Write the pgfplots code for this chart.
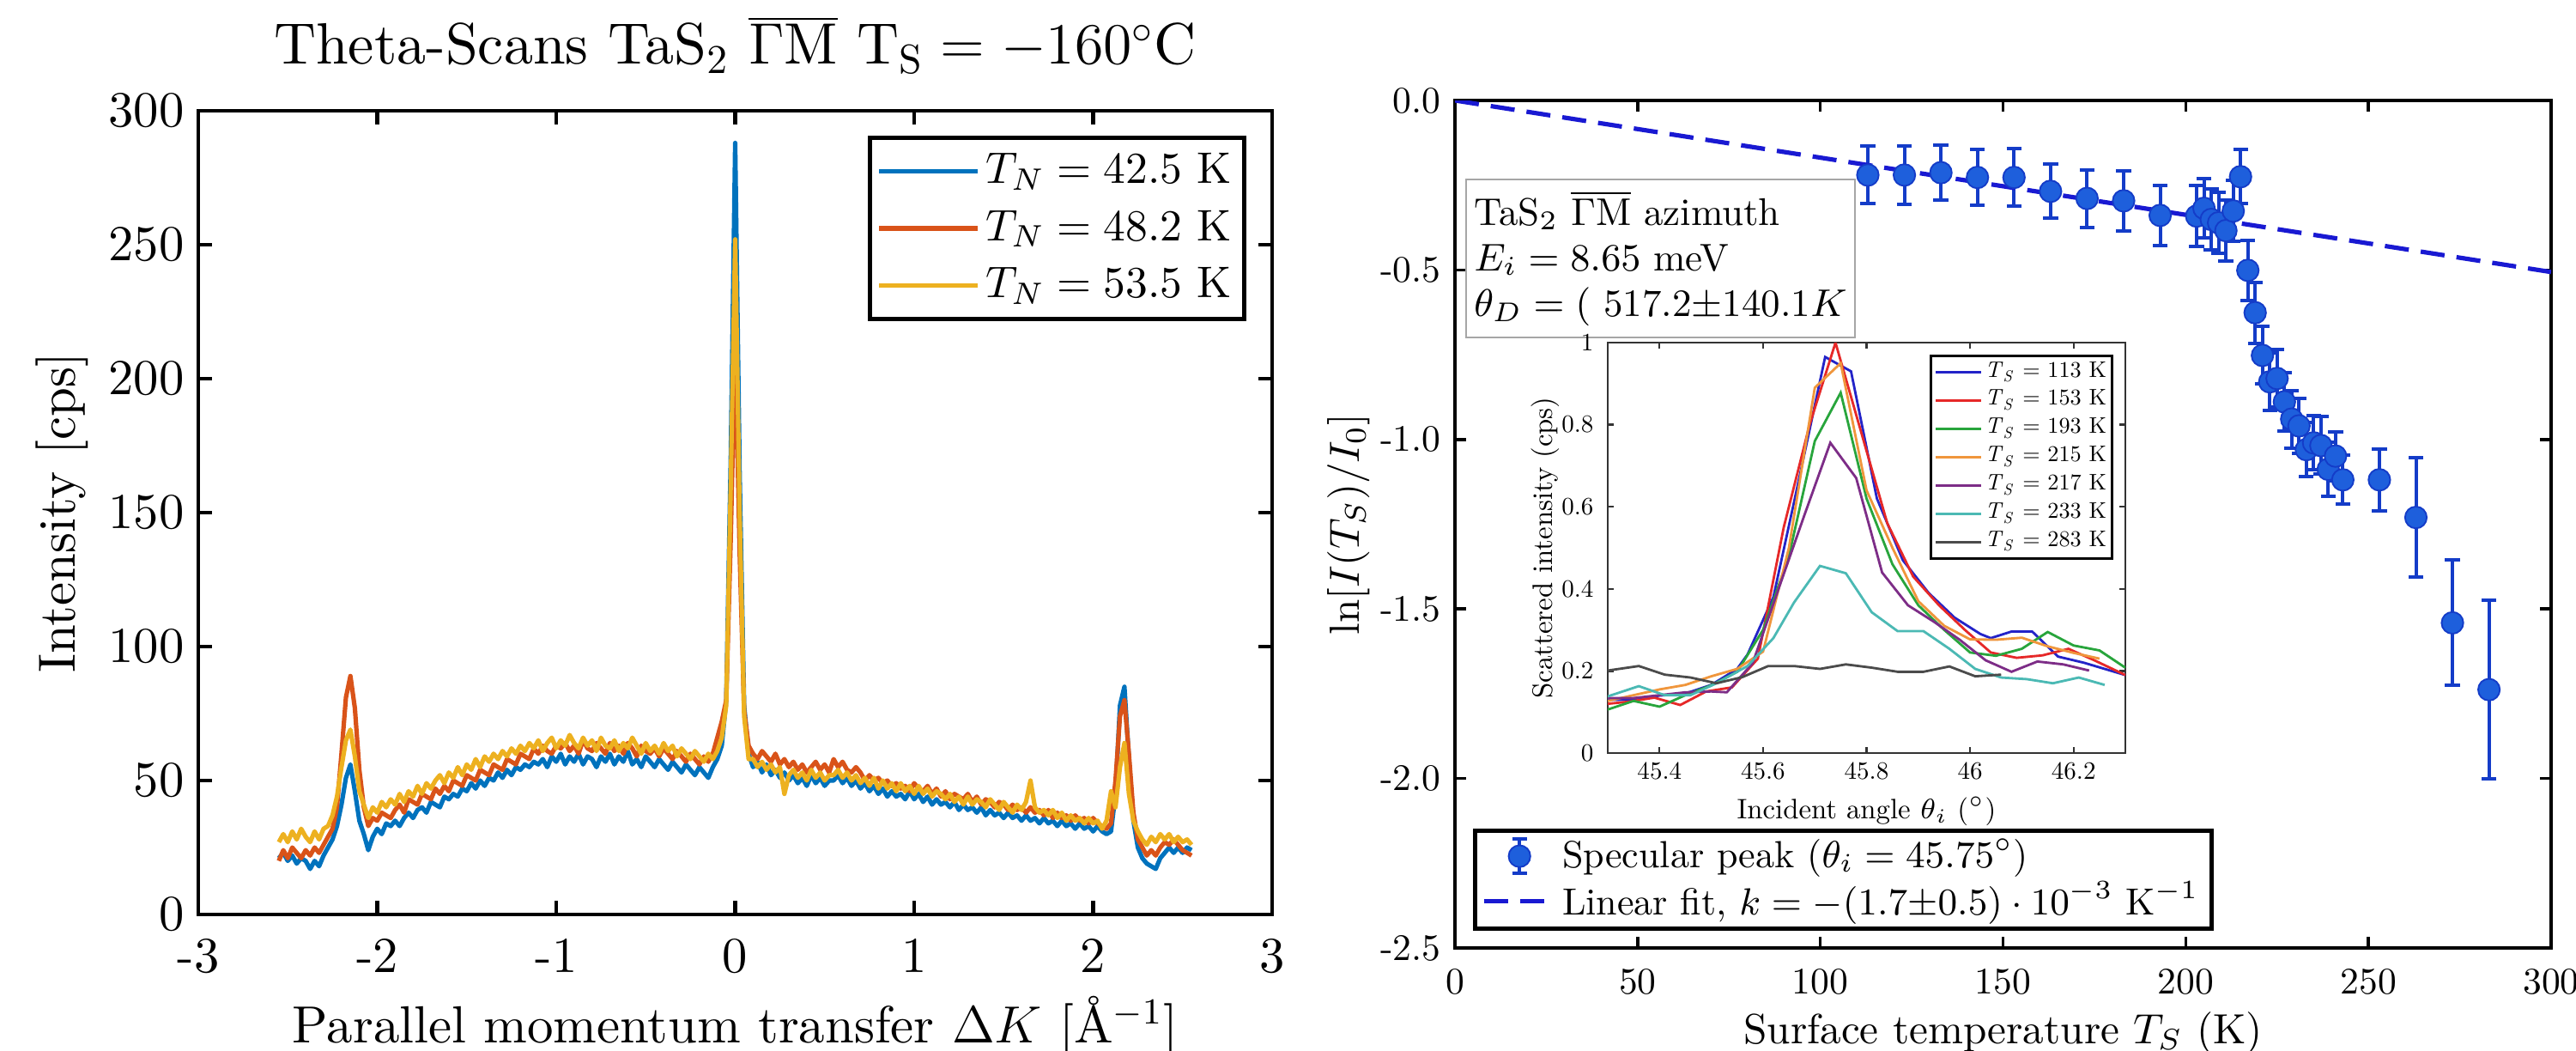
\RequirePackage{fix-cm}
\documentclass[border=0pt]{standalone}
\usepackage{fontspec}
\setmainfont{lmroman10-regular.otf}[ItalicFont=lmroman10-italic.otf, BoldFont=lmroman10-bold.otf]
\usepackage{pgfplots}
\pgfplotsset{compat=1.18}
\usepackage{pgfplotstable}

% MATLAB default colours (left panel)
\definecolor{mblue}{RGB}{0,114,189}
\definecolor{morange}{RGB}{217,83,25}
\definecolor{myellow}{RGB}{237,177,32}
% right panel
\definecolor{mkfill}{RGB}{30,95,220}
\definecolor{errcol}{RGB}{20,60,200}
\definecolor{fitcol}{RGB}{25,25,210}
% inset
\definecolor{iblue}{RGB}{35,35,200}
\definecolor{ired}{RGB}{230,40,40}
\definecolor{igreen}{RGB}{40,165,60}
\definecolor{iorange}{RGB}{240,150,60}
\definecolor{ipurple}{RGB}{125,45,135}
\definecolor{icyan}{RGB}{75,185,180}
\definecolor{igray}{RGB}{75,75,75}

\newcommand{\TS}{\textit{T}\textsubscript{\textit{S}}}

% theta scans: x, T_N=42.5K, 48.2K, 53.5K
\pgfplotstableread{
x b o y
-2.550 21 20 27
-2.525 23 24 30
-2.500 20 21 27
-2.475 22 25 31
-2.450 19 23 28
-2.425 21 21 32
-2.400 20 24 29
-2.375 17 22 27
-2.350 20 25 31
-2.325 18 23 28
-2.300 22 26 32
-2.275 25 29 33
-2.250 28 32 37
-2.225 33 40 44
-2.200 41 60 55
-2.175 51 81 65
-2.150 56 89 69
-2.125 46 77 59
-2.100 35 54 46
-2.075 30 40 41
-2.050 24 33 36
-2.025 29 36 40
-2.000 32 35 38
-1.975 30 38 42
-1.950 34 37 40
-1.925 33 36 43
-1.900 35 39 41
-1.875 33 41 45
-1.850 36 38 42
-1.825 38 43 46
-1.800 36 42 44
-1.775 39 41 48
-1.750 40 45 45
-1.725 38 44 49
-1.700 42 43 47
-1.675 41 47 50
-1.650 40 45 52
-1.625 44 48 49
-1.600 43 46 53
-1.575 45 50 51
-1.550 44 49 55
-1.525 47 48 52
-1.500 46 52 56
-1.475 49 51 54
-1.450 47 50 58
-1.425 50 54 55
-1.400 48 53 59
-1.375 51 52 57
-1.350 50 56 60
-1.325 53 55 58
-1.300 51 54 61
-1.275 54 58 59
-1.250 52 57 62
-1.225 55 56 60
-1.200 54 60 63
-1.175 56 59 61
-1.150 55 58 64
-1.125 57 62 62
-1.100 56 60 65
-1.075 58 63 61
-1.050 55 61 64
-1.025 59 60 66
-1.000 57 63 62
-0.975 60 62 65
-0.950 56 64 63
-0.925 59 61 67
-0.900 57 63 64
-0.875 60 60 62
-0.850 56 65 66
-0.825 59 62 63
-0.800 58 61 65
-0.775 55 64 61
-0.750 59 62 66
-0.725 57 60 63
-0.700 60 64 62
-0.675 56 61 65
-0.650 59 63 61
-0.625 57 60 64
-0.600 61 64 62
-0.575 56 62 66
-0.550 58 59 63
-0.525 55 63 60
-0.500 59 61 64
-0.475 57 60 61
-0.450 55 62 63
-0.425 58 59 60
-0.400 56 62 64
-0.375 54 60 61
-0.350 57 58 63
-0.325 55 61 59
-0.300 53 59 62
-0.275 56 57 60
-0.250 54 60 58
-0.225 52 58 61
-0.200 55 56 59
-0.175 53 59 57
-0.150 51 57 60
-0.125 55 60 58
-0.100 58 66 61
-0.075 63 72 66
-0.050 80 80 78
-0.025 170 140 160
0.000 288 213 252
0.025 165 135 150
0.050 78 76 74
0.075 60 63 58
0.100 55 60 58
0.125 57 58 55
0.150 53 61 57
0.175 56 59 54
0.200 52 57 56
0.225 54 60 53
0.250 51 56 55
0.275 53 58 45
0.300 50 55 52
0.325 52 57 54
0.350 49 54 51
0.375 51 56 53
0.400 48 53 50
0.425 52 55 54
0.450 49 57 51
0.475 51 54 53
0.500 48 56 50
0.525 50 53 52
0.550 50 58 52
0.575 52 55 54
0.600 49 57 51
0.625 51 54 53
0.650 48 53 50
0.675 50 55 52
0.700 47 53 49
0.725 49 50 51
0.750 46 52 48
0.775 48 50 51
0.800 45 51 47
0.825 47 49 50
0.850 44 50 47
0.875 46 48 49
0.900 44 49 46
0.925 45 47 49
0.950 43 48 46
0.975 46 46 48
1.000 43 49 45
1.025 45 47 48
1.050 42 46 45
1.075 44 48 47
1.100 41 45 44
1.125 43 47 46
1.150 41 44 45
1.175 42 46 43
1.200 40 43 45
1.225 42 45 42
1.250 39 44 44
1.275 41 43 41
1.300 39 45 44
1.325 40 42 41
1.350 38 44 43
1.375 40 41 42
1.400 37 43 40
1.425 39 42 43
1.450 37 40 41
1.475 38 42 39
1.500 36 41 42
1.525 38 39 40
1.550 36 41 38
1.575 37 39 41
1.600 35 40 39
1.625 37 38 42
1.650 35 40 50
1.675 36 38 40
1.700 34 39 38
1.725 36 37 39
1.750 34 39 37
1.775 35 36 39
1.800 33 38 36
1.825 35 36 38
1.850 33 37 35
1.875 34 35 37
1.900 32 37 35
1.925 34 35 36
1.950 32 36 34
1.975 33 34 36
2.000 31 36 34
2.025 33 34 35
2.050 31 33 32
2.075 30 32 35
2.100 31 34 46
2.125 45 50 40
2.150 78 74 55
2.175 85 80 64
2.200 58 60 45
2.225 35 38 35
2.250 25 28 31
2.275 21 25 28
2.300 19 22 26
2.325 18 24 29
2.350 17 22 27
2.375 21 25 30
2.400 23 27 28
2.425 25 26 30
2.450 23 28 27
2.475 25 26 29
2.500 23 24 27
2.525 25 23 28
2.550 24 22 26
}\scans

% specular peak: T_S, ln[I/I0], error
\pgfplotstableread{
T v e
113 -0.220 0.085
123 -0.220 0.087
133 -0.213 0.082
143 -0.227 0.082
153 -0.227 0.084
163 -0.268 0.080
173 -0.289 0.085
183 -0.296 0.088
193 -0.339 0.088
203 -0.341 0.090
205 -0.318 0.088
207 -0.351 0.090
209 -0.361 0.090
211 -0.384 0.090
213 -0.326 0.090
215 -0.225 0.080
217 -0.501 0.088
219 -0.626 0.090
221 -0.752 0.085
223 -0.830 0.085
225 -0.820 0.085
227 -0.889 0.085
229 -0.940 0.085
231 -0.960 0.080
233 -1.030 0.080
235 -1.010 0.080
237 -1.018 0.085
239 -1.088 0.080
241 -1.049 0.072
243 -1.119 0.072
253 -1.119 0.091
263 -1.230 0.176
273 -1.541 0.185
283 -1.738 0.264
}\specular

\begin{document}
\begin{tikzpicture}
\useasboundingbox (-1.7325cm,-8.2125cm) rectangle (20.775cm,0.9675cm);

% ---------------- left panel ----------------
\begin{axis}[
  at={(0cm,0cm)}, anchor=north west,
  scale only axis, width=9.3825cm, height=7.02cm,
  xmin=-3, xmax=3, ymin=0, ymax=300,
  xtick={-3,-2,-1,0,1,2,3}, ytick={0,50,100,150,200,250,300},
  tick align=inside, major tick length=0.12cm,
  axis line style={line width=1pt},
  tick style={line width=1pt, black},
  /pgf/number format/assume math mode=true,
  ticklabel style={font=\fontsize{12.5}{15}\selectfont},
  xticklabel style={yshift=-0.09cm},
  title={Theta-Scans TaS$_2$ $\overline{\Gamma\mathrm{M}}$ $\mathrm{T_S} = -160^\circ\mathrm{C}$},
  title style={font=\fontsize{14.5}{17}\selectfont, at={(axis description cs:0.5,1)}, anchor=base, yshift=0.195cm},
  xlabel={Parallel momentum transfer $\Delta K$ [\AA$^{-1}$]},
  xlabel style={font=\fontsize{13}{15}\selectfont, at={(axis description cs:0.5,-0.160)}, anchor=base},
  ylabel={Intensity [cps]},
  ylabel style={font=\fontsize{13}{15}\selectfont, at={(axis description cs:-0.127,0.5)}, anchor=center},
  legend style={at={(rel axis cs:1,1)}, anchor=north east, xshift=-0.225cm, yshift=-0.22cm,
    draw=black, line width=1pt, font=\fontsize{11}{13}\selectfont,
    inner xsep=0.06cm, inner ysep=0.045cm,
    nodes={inner xsep=0.05cm, inner ysep=0.09cm}},
  legend cell align=left,
  legend image code/.code={\draw[#1] (0cm,0cm) -- (0.86cm,0cm);},
]
\addplot[mblue, line width=1.1pt, line join=round] table[x=x, y=b] {\scans};
\addplot[morange, line width=1.1pt, line join=round] table[x=x, y=o] {\scans};
\addplot[myellow, line width=1.1pt, line join=round] table[x=x, y=y] {\scans};
\legend{$T_N = 42.5$ K, $T_N = 48.2$ K, $T_N = 53.5$ K}
\end{axis}

% ---------------- right panel ----------------
\begin{axis}[
  at={(10.98cm,0.09cm)}, anchor=north west,
  scale only axis, width=9.5775cm, height=7.4025cm,
  xmin=0, xmax=300, ymin=-2.5, ymax=0,
  xtick={0,50,100,150,200,250,300}, ytick={-2.5,-2,-1.5,-1,-0.5,0},
  tick align=inside, major tick length=0.1cm,
  axis line style={line width=0.75pt},
  tick style={line width=0.75pt, black},
  /pgf/number format/assume math mode=true,
  ticklabel style={font=\fontsize{9.3}{11}\selectfont},
  yticklabel style={/pgf/number format/.cd, fixed, fixed zerofill, precision=1},
  xticklabel style={yshift=-0.06cm},
  xlabel={Surface temperature $T_S$ (K)},
  xlabel style={font=\fontsize{10.5}{12.5}\selectfont, at={(axis description cs:0.5,-0.1125)}, anchor=base},
  ylabel={$\ln[I(T_S)/I_0]$},
  ylabel style={font=\fontsize{10.5}{12.5}\selectfont, at={(axis description cs:-0.097,0.5)}, anchor=center},
  legend style={at={(rel axis cs:0.0164,0.0203)}, anchor=south west,
    draw=black, line width=1pt, font=\fontsize{9.4}{11}\selectfont,
    inner xsep=0.06cm, inner ysep=0.035cm,
    nodes={inner xsep=0.05cm, inner ysep=0.035cm}},
  legend cell align=left,
]
\addplot[only marks, mark=*, mark size=2.7pt,
  mark options={fill=mkfill, draw=errcol, line width=0.4pt},
  legend image code/.code={
    \draw[errcol, line width=0.85pt] (0.31cm,-0.15cm) -- (0.31cm,0.15cm);
    \draw[errcol, line width=0.85pt] (0.245cm,-0.15cm) -- (0.375cm,-0.15cm);
    \draw[errcol, line width=0.85pt] (0.245cm,0.15cm) -- (0.375cm,0.15cm);
    \draw[fill=mkfill, draw=errcol, line width=0.4pt] (0.31cm,0cm) circle (2.7pt);},
  error bars/.cd, y dir=both, y explicit,
  error bar style={line width=0.85pt, errcol},
  error mark options={rotate=90, line width=0.85pt, errcol, mark size=0.065cm},
  ] table[x=T, y=v, y error=e] {\specular};
\addlegendentry{Specular peak ($\theta_i = 45.75^\circ$)}
\addplot[fitcol, line width=1.1pt, dash pattern=on 6pt off 3pt,
  legend image code/.code={
    \draw[fitcol, line width=1.1pt, dash pattern=on 6pt off 3pt] (0cm,0cm) -- (0.615cm,0cm);}]
  coordinates {(0,0) (300,-0.506)};
\addlegendentry{Linear fit, $k = -(1.7{\pm}0.5)\cdot 10^{-3}$ K$^{-1}$}
\node[draw=gray!70, line width=0.4pt, anchor=north west, align=left,
  font=\fontsize{9.6}{11.3}\selectfont, inner xsep=0.07cm, inner ysep=0.1cm]
  at (rel axis cs:0.0094,0.9078)
  {TaS$_2$ $\overline{\Gamma\mathrm{M}}$ azimuth\\ $E_i = 8.65$ meV\\ $\theta_D = ($ 517.2$\pm$140.1$K$};
\end{axis}

% ---------------- inset ----------------
\begin{axis}[
  at={(12.315cm,-2.025cm)}, anchor=north west,
  scale only axis, width=4.5225cm, height=3.585cm,
  axis background/.style={fill=white},
  xmin=45.3, xmax=46.3, ymin=0, ymax=1,
  xtick={45.4,45.6,45.8,46,46.2}, ytick={0,0.2,0.4,0.6,0.8,1},
  tick align=inside, major tick length=0.05cm,
  axis line style={line width=0.6pt, black!80},
  tick style={line width=0.5pt, black!80},
  /pgf/number format/assume math mode=true,
  ticklabel style={font=\fontsize{6.2}{7.5}\selectfont},
  xticklabel style={yshift=-0.04cm, inner sep=1pt},
  xlabel={Incident angle $\theta_i$ ($^\circ$)},
  xlabel style={font=\fontsize{7}{8.5}\selectfont, at={(axis description cs:0.5,-0.16)}, anchor=base, inner sep=0pt},
  ylabel={Scattered intensity (cps)},
  ylabel style={font=\fontsize{7}{8.5}\selectfont, at={(axis description cs:-0.121,0.5)}, anchor=center},
  legend style={at={(rel axis cs:1,1)}, anchor=north east, xshift=-0.105cm, yshift=-0.105cm,
    draw=black, line width=0.6pt, font=\fontsize{5.6}{6.5}\selectfont,
    inner xsep=0.03cm, inner ysep=0.02cm,
    nodes={inner xsep=0.02cm, inner ysep=0.03cm}},
  legend cell align=left,
  legend image code/.code={\draw[#1] (0cm,0cm) -- (0.4cm,0cm);},
  every axis plot/.append style={line width=0.6pt},
]
\addplot[iblue] coordinates {
(45.30,0.130) (45.35,0.130) (45.40,0.140) (45.45,0.145) (45.50,0.166) (45.55,0.205)
(45.57,0.240) (45.62,0.380) (45.67,0.670) (45.72,0.965) (45.77,0.930) (45.82,0.620)
(45.87,0.470) (45.92,0.390) (45.97,0.330) (46.02,0.290) (46.04,0.280) (46.08,0.296)
(46.12,0.296) (46.17,0.235) (46.22,0.220) (46.30,0.190)};
\addplot[ired] coordinates {
(45.30,0.120) (45.34,0.125) (45.39,0.135) (45.44,0.117) (45.49,0.150) (45.54,0.160)
(45.59,0.230) (45.64,0.550) (45.69,0.800) (45.74,1.000) (45.79,0.780) (45.84,0.560)
(45.89,0.430) (45.94,0.360) (45.99,0.300) (46.04,0.245) (46.09,0.232) (46.14,0.238)
(46.19,0.254) (46.24,0.226) (46.30,0.190)};
\addplot[igreen] coordinates {
(45.30,0.106) (45.35,0.127) (45.40,0.113) (45.45,0.141) (45.50,0.165) (45.55,0.198)
(45.60,0.300) (45.65,0.480) (45.70,0.760) (45.75,0.878) (45.80,0.620) (45.85,0.460)
(45.90,0.360) (45.95,0.300) (46.00,0.245) (46.05,0.237) (46.10,0.254) (46.15,0.295)
(46.20,0.262) (46.25,0.250) (46.30,0.208)};
\addplot[iorange] coordinates {
(45.30,0.127) (45.35,0.141) (45.40,0.155) (45.45,0.166) (45.50,0.187) (45.55,0.205)
(45.60,0.247) (45.65,0.500) (45.70,0.890) (45.75,0.950) (45.80,0.640) (45.85,0.500)
(45.90,0.370) (45.95,0.310) (46.00,0.277) (46.05,0.276) (46.10,0.281) (46.15,0.260)
(46.20,0.244) (46.25,0.230)};
\addplot[ipurple] coordinates {
(45.30,0.134) (45.35,0.134) (45.40,0.141) (45.45,0.148) (45.50,0.150) (45.53,0.148)
(45.58,0.219) (45.63,0.400) (45.68,0.580) (45.73,0.756) (45.78,0.670) (45.83,0.440)
(45.88,0.360) (45.93,0.320) (45.98,0.276) (46.03,0.226) (46.08,0.198) (46.13,0.223)
(46.18,0.216) (46.23,0.201)};
\addplot[icyan] coordinates {
(45.30,0.138) (45.36,0.163) (45.41,0.141) (45.46,0.141) (45.51,0.170) (45.57,0.212)
(45.62,0.280) (45.66,0.367) (45.71,0.456) (45.76,0.438) (45.81,0.343) (45.86,0.297)
(45.91,0.297) (45.96,0.254) (46.01,0.205) (46.06,0.184) (46.11,0.180) (46.16,0.170)
(46.21,0.184) (46.26,0.166)};
\addplot[igray] coordinates {
(45.30,0.201) (45.36,0.212) (45.41,0.191) (45.46,0.184) (45.51,0.170) (45.56,0.185)
(45.61,0.212) (45.66,0.212) (45.71,0.205) (45.76,0.216) (45.81,0.208) (45.86,0.198)
(45.91,0.198) (45.96,0.211) (46.01,0.187) (46.06,0.191)};
\legend{\TS{} = 113 K, \TS{} = 153 K, \TS{} = 193 K, \TS{} = 215 K, \TS{} = 217 K, \TS{} = 233 K, \TS{} = 283 K}
\end{axis}
\end{tikzpicture}
\end{document}
